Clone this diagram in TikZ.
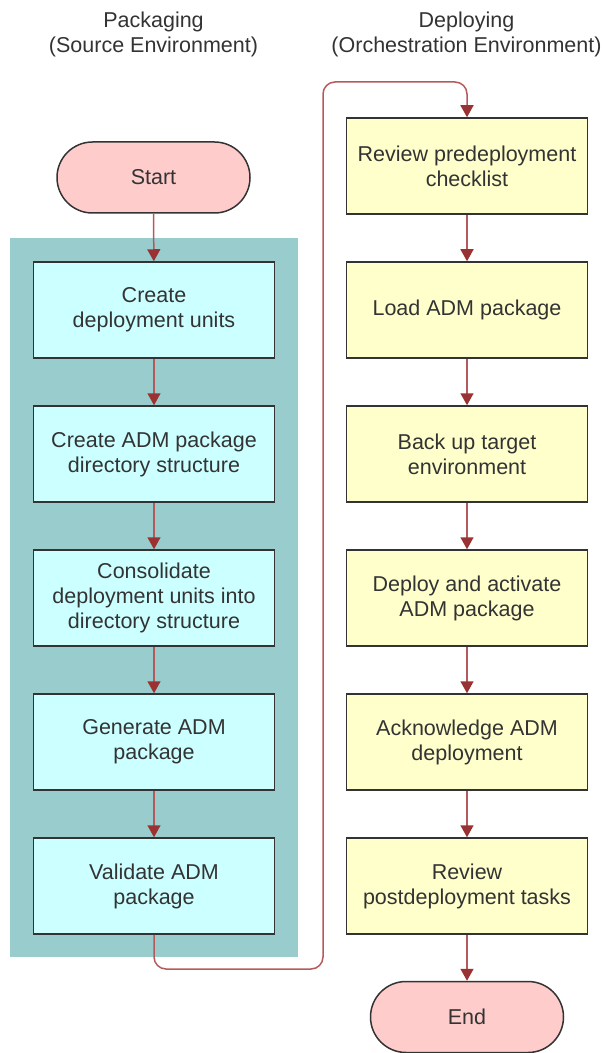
\documentclass[tikz,border=0pt]{standalone}
\usepackage{fontspec}
\setmainfont{Liberation Sans}
\usetikzlibrary{arrows.meta,calc,positioning}

\definecolor{termfill}{HTML}{FFCCCC}
\definecolor{srcfill}{HTML}{CCFFFF}
\definecolor{depfill}{HTML}{FFFFCC}
\definecolor{panelfill}{HTML}{99CCCC}
\definecolor{edgegray}{HTML}{333333}
\definecolor{linered}{HTML}{B55A5A}
\definecolor{tipred}{HTML}{993333}

\begin{document}
\begin{tikzpicture}[
    x=0.5pt,
    y=-0.5pt,
    >={Triangle[length=6pt, width=6.5pt, color=tipred]},
    txt/.style={font=\fontsize{10.75}{12.5}\selectfont, text=edgegray, align=center},
    title/.style={txt, inner sep=0pt},
    srcbox/.style={txt, draw=edgegray, line width=0.75pt, fill=srcfill, minimum width=120.5pt, minimum height=48pt, inner sep=0pt},
    depbox/.style={srcbox, fill=depfill},
    term/.style={txt, draw=edgegray, line width=0.75pt, fill=termfill, rounded corners=17.75pt, minimum width=96.5pt, minimum height=35.5pt, inner sep=0pt},
    line/.style={->, draw=linered, line width=0.75pt}
]
\useasboundingbox (0,0) rectangle (601,1053);
\fill[panelfill] (10,238) rectangle (298,957);

\node[title] (srchead) at (153.5,34) {Packaging\\(Source Environment)};
\node[title] (dephead) at (466.5,34) {Deploying\\(Orchestration Environment)};

\node[term] (start) at (153.5,177.5) {Start};
\node[srcbox] (units) at (154,310) {Create\\deployment units};
\node[srcbox] (dirs) at (154,454) {Create ADM package\\directory structure};
\node[srcbox] (consol) at (154,598) {Consolidate\\deployment units into\\directory structure};
\node[srcbox] (gen) at (154,742) {Generate ADM\\package};
\node[srcbox] (valid) at (154,886) {Validate ADM\\package};

\node[depbox] (check) at (467,166) {Review predeployment\\checklist};
\node[depbox] (load) at (467,310) {Load ADM package};
\node[depbox] (backup) at (467,454) {Back up target\\environment};
\node[depbox] (deploy) at (467,598) {Deploy and activate\\ADM package};
\node[depbox] (ack) at (467,742) {Acknowledge ADM\\deployment};
\node[depbox] (post) at (467,886) {Review\\postdeployment tasks};
\node[term] (end) at (467,1017) {End};

\draw[line] (start) -- (units);
\draw[line] (units) -- (dirs);
\draw[line] (dirs) -- (consol);
\draw[line] (consol) -- (gen);
\draw[line] (gen) -- (valid);
\draw[line, rounded corners=6pt] (valid.south) |- (323,969) |- (467,82) -- (check.north);
\draw[line] (check) -- (load);
\draw[line] (load) -- (backup);
\draw[line] (backup) -- (deploy);
\draw[line] (deploy) -- (ack);
\draw[line] (ack) -- (post);
\draw[line] (post) -- (end);
\end{tikzpicture}
\end{document}
